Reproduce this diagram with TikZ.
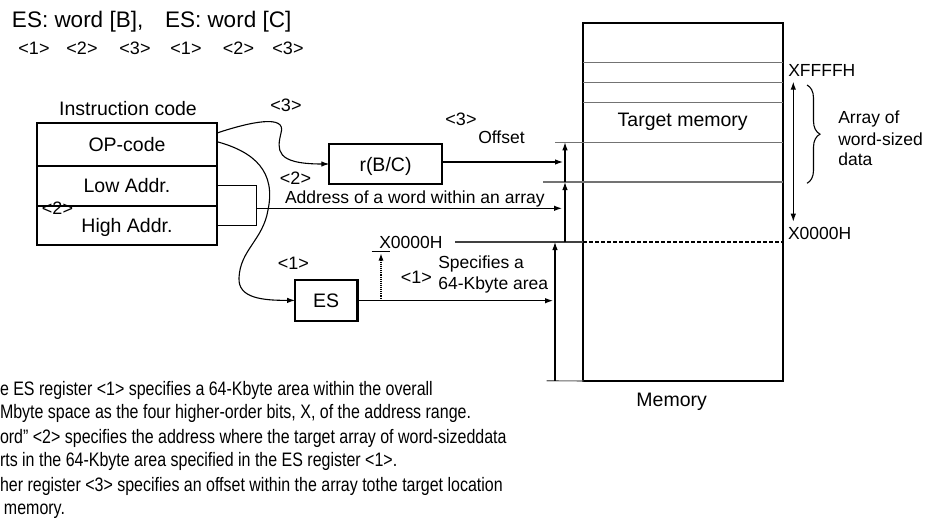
\documentclass[tikz,border=0pt]{standalone}
\usepackage{fontspec}
\setmainfont{Liberation Sans}
\newfontfamily\narrowsans[FakeStretch=0.82]{Liberation Sans}
\usetikzlibrary{arrows.meta,decorations.pathreplacing,calc}

\begin{document}
\begin{tikzpicture}[x=1pt,y=-1pt,
  every node/.style={inner sep=0pt, outer sep=0pt},
  ftitle/.style={font=\fontsize{22.5}{25}\selectfont},
  fbig/.style={font=\fontsize{19.5}{22}\selectfont},
  fmid/.style={font=\fontsize{17.5}{20}\selectfont},
  ftag/.style={font=\fontsize{18}{20}\selectfont},
  fnote/.style={font=\narrowsans\fontsize{19.5}{22}\selectfont},
  box/.style={draw, line width=2.3pt},
  captext/.style={text height=14pt, text depth=0pt},
  conn/.style={line width=1.1pt},
  arr/.style={conn, -{Latex[length=8pt,width=5.5pt]}},
  memline/.style={draw=black!55, line width=1.5pt}]
\useasboundingbox (0,0) rectangle (927,519);

% title and tags
\node[ftitle, anchor=base west] (t1) at (12,28) {ES: word [B],};
\node[ftitle, anchor=base west] (t2) at (165,28) {ES: word [C]};
\node[ftag, anchor=base] (g1) at (34,54.5) {<1>};
\node[ftag, anchor=base] (g2) at (82,54.5) {<2>};
\node[ftag, anchor=base] (g3) at (135,54.5) {<3>};
\node[ftag, anchor=base] (g4) at (186,54.5) {<1>};
\node[ftag, anchor=base] (g5) at (238.5,54.5) {<2>};
\node[ftag, anchor=base] (g6) at (288,54.5) {<3>};

% instruction code box
\node[fbig, anchor=base] (ic) at (128,116) {Instruction code};
\node[box, fbig, captext, minimum width=180pt, minimum height=43pt] (op) at (127,144.5) {OP-code};
\node[box, fbig, captext, minimum width=180pt, minimum height=39.7pt] (low) at (127,185.85) {Low Addr.};
\node[box, fbig, captext, minimum width=180pt, minimum height=39.3pt] (high) at (127,225.35) {High Addr.};
\node[ftag, anchor=base] (tag2a) at (57.5,214.5) {<2>};

% registers
\node[box, fbig, captext, minimum width=112.4pt, minimum height=40pt] (rbc) at (385.5,164) {r(B/C)};
\node[box, fbig, captext, minimum width=62.3pt, minimum height=40.7pt] (es) at (326.2,300.4) {ES};

% memory
\node[box, minimum width=199.4pt, minimum height=357.7pt] (mem) at (683,202.15) {};
\node[fbig, anchor=base] (tm) at (682.7,126) {Target memory};
\node[fbig, anchor=base] (memlbl) at (671.7,406.7) {Memory};

% memory rows
\foreach \yy in {62.7,82.3,102.7}{
  \draw[memline] (mem.west |- 0,\yy) -- (mem.east |- 0,\yy);
}
\coordinate (h1) at (555,142.3);
\coordinate (h2) at (543.3,182);
\coordinate (h0) at (455,242);
\coordinate (hb) at (546.7,380.7);
\draw[memline] (h1) -- (h1 -| mem.east);
\draw[memline] (h2) -- (h2 -| mem.east);
\draw[conn, draw=black!75] (h0) -- (h0 -| mem.west);
\draw[conn, dashed, dash pattern=on 4pt off 2pt] (h0 -| mem.west) -- (h0 -| mem.east);
\draw[conn, draw=black!60] (hb) -- (mem.south west);

% right labels
\node[fmid, anchor=base west] (xf) at (788.3,76.3) {XFFFFH};
\node[fmid, anchor=base west] (x0r) at (788,239.6) {X0000H};
\coordinate (da) at (793.3,81.7);
\coordinate (db) at (793.3,221.7);
\draw[conn, {Latex[length=8pt,width=5.5pt]}-{Latex[length=8pt,width=5.5pt]}] (da) -- (db);
\coordinate (bra) at (807,85);
\coordinate (brb) at (807,183.3);
\draw[conn, decorate, decoration={brace, amplitude=13pt}] (bra) -- (brb);
\node[fmid, anchor=base west] (ar1) at (838.3,124) {Array of};
\node[fmid, anchor=base west] (ar2) at (838.3,145) {word-sized};
\node[fmid, anchor=base west] (ar3) at (838.3,165.5) {data};

% address stack arrows
\coordinate (s1b) at (555,380.7);
\coordinate (s1t) at (555,242);
\coordinate (s2b) at (565,242);
\coordinate (s2m) at (565,182);
\coordinate (s2t) at (565,142.3);
\draw[arr] (s1b) -- (s1t);
\draw[arr] (s2b) -- (s2m);
\draw[arr] (s2m) -- (s2t);

% offset path
\coordinate (offEnd) at (563,162);
\draw[arr] (rbc.east |- offEnd) -- (offEnd);
\node[ftag, anchor=base] (tag3b) at (461,125.5) {<3>};
\node[fmid, anchor=base west] (offl) at (478.3,143) {Offset};

% address path
\coordinate (brk) at (256.7,208.3);
\draw[conn] (low.east) -| (brk) |- (high.east);
\coordinate (addrEnd) at (562,208.3);
\draw[arr] (brk) -- (addrEnd);
\node[ftag, anchor=base] (tag2b) at (295.5,184) {<2>};
\node[fmid, anchor=base west] (addrl) at (285,203) {Address of a word within an array};

% ES path
\coordinate (esEnd) at (553,300.7);
\draw[arr] (es.east |- esEnd) -- (esEnd);
\node[ftag, anchor=base] (tag1a) at (293.3,269) {<1>};
\node[ftag, anchor=base] (tag1b) at (416.3,283) {<1>};
\node[fmid, anchor=base west] (spec1) at (438.3,268.6) {Specifies a};
\node[fmid, anchor=base west] (spec2) at (438.3,289.6) {64-Kbyte area};
\node[fmid, anchor=base west] (x0l) at (379.3,248) {X0000H};
\coordinate (dotb) at (381,300.7);
\coordinate (dott) at (381,253.5);
\draw[conn, densely dotted, -{Latex[length=7pt,width=5pt]}] (dotb) -- (dott);
\draw[conn] (371.7,251.7) -- (390,251.7);

% curves from OP-code
\node[ftag, anchor=base] (tag3a) at (286,111.5) {<3>};
\draw[arr] ($(op.east)+(0,-11.5)$) .. controls (250,122) and (287,114) .. (281,133)
   .. controls (277,150) and (275,164) .. (rbc.west);
\draw[conn, -{Latex[length=8pt,width=5.5pt]}] ($(op.east)+(0,-2.8)$) .. controls (255,152) and (276,172) .. (268,210)
   .. controls (263,240) and (240,250) .. (239,278)
   .. controls (238,298) and (262,300.4) .. (es.west);

% bottom text
\node[fnote, anchor=base west] (b1) at (0,395.3) {e ES register <1> specifies a 64-Kbyte area within the overall};
\node[fnote, anchor=base west] (b2) at (0,418) {Mbyte space as the four higher-order bits, X, of the address range.};
\node[fnote, anchor=base west] (b3) at (0,443.5) {ord” <2> specifies the address where the target array of word-sizeddata};
\node[fnote, anchor=base west] (b4) at (0,466.2) {rts in the 64-Kbyte area specified in the ES register <1>.};
\node[fnote, anchor=base west] (b5) at (0,491.2) {her register <3> specifies an offset within the array tothe target location};
\node[fnote, anchor=base west] (b6) at (4,514) {memory.};
\end{tikzpicture}
\end{document}
